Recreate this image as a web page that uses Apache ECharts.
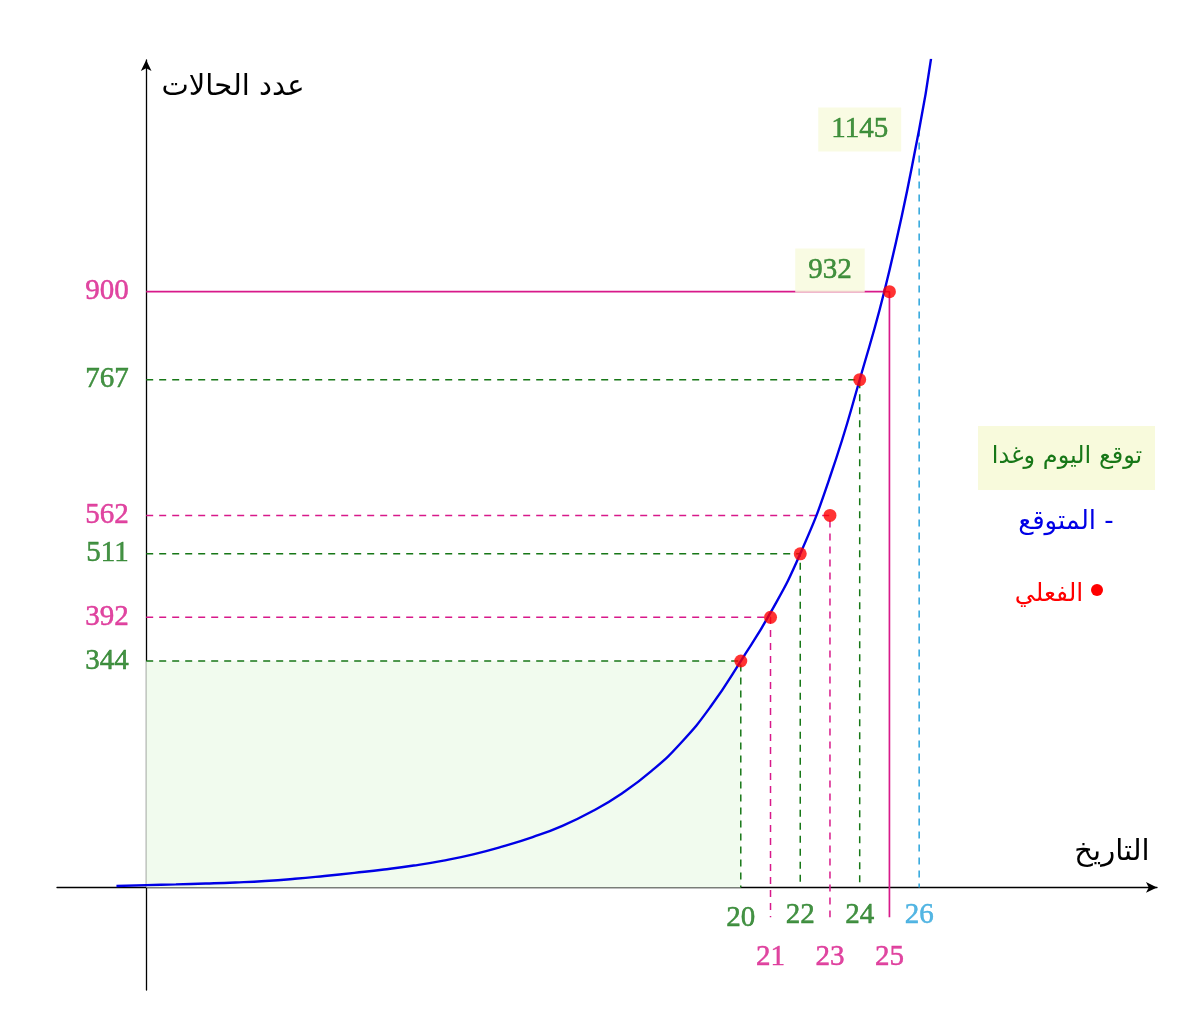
<!DOCTYPE html>
<html>
<head>
<meta charset="utf-8">
<script src="https://cdn.jsdelivr.net/npm/echarts@6/dist/echarts.min.js"></script>
<style>
  html, body { margin: 0; padding: 0; background: #fff; }
  #chart { width: 1200px; height: 1009px; }
</style>
</head>
<body>
<div id="chart"></div>
<script>
// curve (expected cases), one point a day
const curveDays = [-1, 0, 1, 2, 3, 4, 5, 6, 7, 8, 9, 10, 11, 12, 13, 14, 15, 16, 17, 18, 19, 20, 21, 22, 23, 24, 25, 26, 26.4]
const curveCases = [2.2, 3.5, 4.5, 5.8, 7.4, 9.6, 13, 17.3, 22, 27, 33, 40.5, 50, 62, 76, 93, 115, 142, 176, 219, 274, 342, 415, 504, 620, 767, 932, 1145, 1252]

// actual cases (red dots), as placed in the picture, and their printed labels
const actualDays = [20, 21, 22, 23, 24, 25]
const actualCases = [342, 408, 504, 562, 767, 900]
const caseLabels = ['344', '392', '511', '562', '767', '900']

// forecast for today and tomorrow
const forecastDays = [25, 26]
const forecastCases = [932, 1145]

const tickDays = [20, 21, 22, 23, 24, 25, 26]

const GREEN = '#177717'
const MAGENTA = '#d8198a'
const CYAN = '#2aa4dc'
const BLUE = '#0000e6'
const RED = '#ff0000'
const BOX = '#f8fadc'
const NUM_FONT = "'Liberation Serif', serif"
const AR_FONT = "'DejaVu Sans', sans-serif"

const chart = echarts.init(document.getElementById('chart'))

function dayColor (d) {
  if (d === 26) return CYAN
  return d % 2 === 0 ? GREEN : MAGENTA
}

function numLabel (color) {
  return { color: color, textBorderColor: color, textBorderWidth: 0.5 }
}

function handleSetSeries () {
  const series = []

  // shaded block under the first dot, from the y axis to day 20
  series.push({
    type: 'line',
    data: [[0, actualCases[0]], [actualDays[0], actualCases[0]]],
    symbol: 'none',
    lineStyle: { opacity: 0 },
    areaStyle: { color: '#f1fbee', opacity: 1 },
    z: 1,
    silent: true
  })

  // guide lines from the y axis to each dot and down to the date
  actualDays.forEach((d, i) => {
    const v = actualCases[i]
    const green = d % 2 === 0
    const solid = d === 25
    series.push({
      type: 'line',
      data: [[0, v], [d, v], [d, green ? 0 : -45]],
      symbol: 'none',
      lineStyle: {
        color: green ? GREEN : MAGENTA,
        width: solid ? 1.7 : 1.5,
        type: solid ? 'solid' : [7, 6]
      },
      z: 2,
      silent: true
    })
  })

  // tomorrow's forecast, dashed cyan
  series.push({
    type: 'line',
    data: [[forecastDays[1], forecastCases[1]], [forecastDays[1], 0]],
    symbol: 'none',
    lineStyle: { color: CYAN, width: 1.5, type: [7, 6] },
    z: 2,
    silent: true
  })

  // expected curve
  series.push({
    type: 'line',
    data: curveDays.map((d, i) => [d, curveCases[i]]),
    smooth: 0.5,
    symbol: 'none',
    lineStyle: { color: BLUE, width: 2.4 },
    z: 5
  })

  // actual dots
  series.push({
    type: 'scatter',
    data: actualDays.map((d, i) => [d, actualCases[i]]),
    symbolSize: 13,
    itemStyle: { color: RED },
    z: 6
  })

  // y labels
  series.push({
    type: 'scatter',
    data: actualDays.map((d, i) => ({
      value: [0, actualCases[i]],
      label: numLabel(dayColor(d))
    })),
    symbolSize: 1,
    itemStyle: { color: 'transparent' },
    label: {
      show: true,
      position: 'left',
      distance: 17,
      fontFamily: NUM_FONT,
      fontSize: 29,
      formatter: p => caseLabels[p.dataIndex]
    },
    z: 7,
    silent: true
  })

  // x labels, odd days one row lower
  series.push({
    type: 'scatter',
    data: tickDays.map(d => ({
      value: [d, 0],
      label: Object.assign(numLabel(dayColor(d)), {
        distance: d === 20 ? 15 : (d % 2 === 0 ? 12 : 54)
      })
    })),
    symbolSize: 1,
    itemStyle: { color: 'transparent' },
    label: {
      show: true,
      position: 'bottom',
      fontFamily: NUM_FONT,
      fontSize: 29,
      lineHeight: 30,
      formatter: p => p.value[0]
    },
    z: 7,
    silent: true
  })

  // forecast boxes, sitting up-left of the forecast
  series.push({
    type: 'scatter',
    data: forecastDays.map((d, i) => [d - 2, forecastCases[i]]),
    symbolSize: 1,
    itemStyle: { color: 'transparent' },
    label: Object.assign(numLabel(GREEN), {
      show: true,
      position: 'inside',
      fontFamily: NUM_FONT,
      fontSize: 29,
      lineHeight: 30,
      backgroundColor: BOX,
      padding: [7, 13],
      formatter: p => forecastCases[p.dataIndex]
    }),
    z: 10,
    silent: true
  })

  return series
}

function handleSetOption () {
  const axisLine = {
    onZero: true,
    symbol: ['none', 'arrow'],
    symbolSize: [8, 11],
    lineStyle: { color: '#000', width: 1.3 }
  }
  chart.setOption({
    animation: false,
    backgroundColor: '#fff',
    grid: { left: 57, top: 60, width: 1100, height: 930, outerBoundsMode: 'none' },
    xAxis: {
      type: 'value', min: -3, max: 34,
      axisLine: axisLine,
      axisTick: { show: false },
      axisLabel: { show: false },
      splitLine: { show: false }
    },
    yAxis: {
      type: 'value', min: -155, max: 1250,
      axisLine: axisLine,
      axisTick: { show: false },
      axisLabel: { show: false },
      splitLine: { show: false }
    },
    graphic: [
      { type: 'text', style: { text: 'عدد الحالات', x: 233, y: 87, fill: '#000', font: '29px ' + AR_FONT, textAlign: 'center', textVerticalAlign: 'middle' } },
      { type: 'text', style: { text: 'التاريخ', x: 1112, y: 852, fill: '#000', font: '29px ' + AR_FONT, textAlign: 'center', textVerticalAlign: 'middle' } },
      { type: 'rect', shape: { x: 978, y: 426, width: 177, height: 64 }, style: { fill: BOX } },
      { type: 'text', style: { text: 'توقع اليوم وغدا', x: 1067, y: 457, fill: GREEN, font: '24px ' + AR_FONT, textAlign: 'center', textVerticalAlign: 'middle' } },
      { type: 'text', style: { text: 'المتوقع -', x: 1066, y: 522, fill: BLUE, font: '26px ' + AR_FONT, textAlign: 'center', textVerticalAlign: 'middle' } },
      { type: 'text', style: { text: 'الفعلي', x: 1049, y: 594, fill: RED, font: '25px ' + AR_FONT, textAlign: 'center', textVerticalAlign: 'middle' } },
      { type: 'circle', shape: { cx: 1097, cy: 590, r: 6 }, style: { fill: RED } }
    ],
    series: handleSetSeries()
  })
}

handleSetOption()
window.addEventListener('resize', () => chart.resize())
</script>
</body>
</html>
